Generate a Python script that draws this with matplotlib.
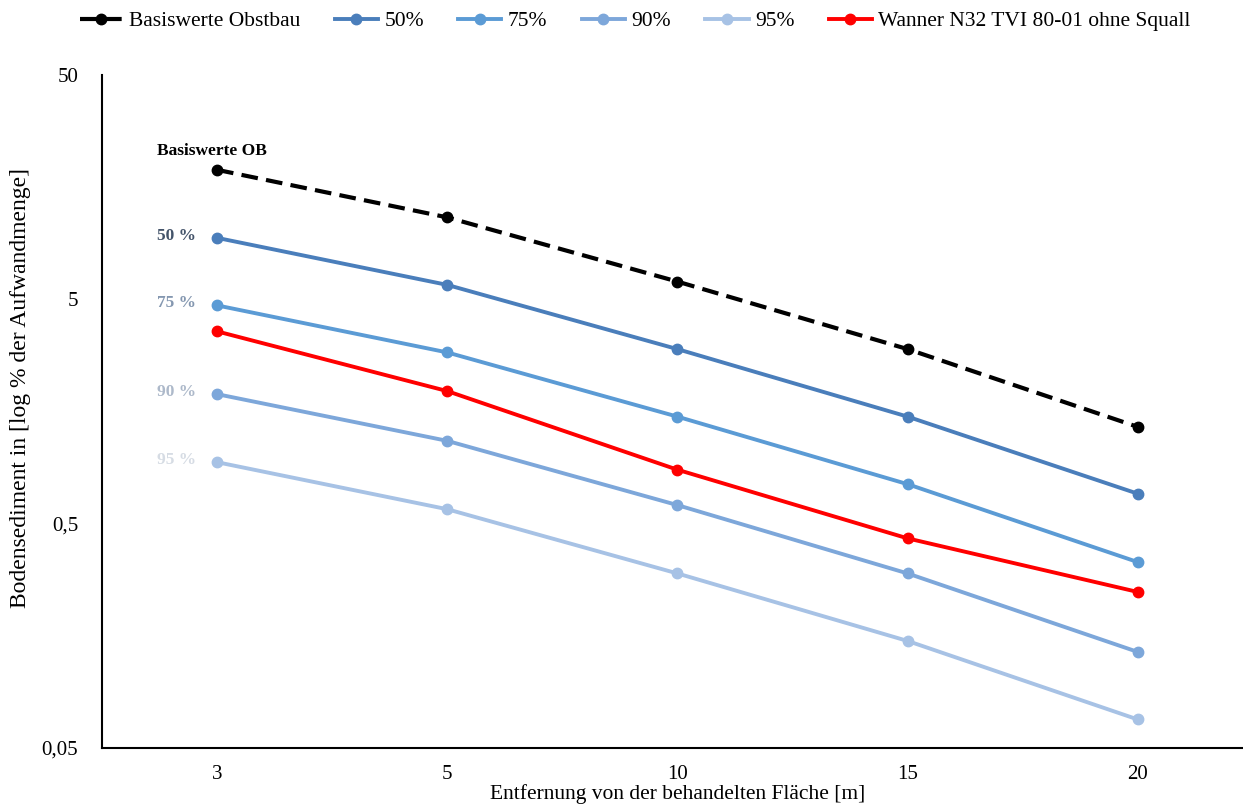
import matplotlib
matplotlib.use("Agg")
import matplotlib.pyplot as plt
from matplotlib.ticker import FixedLocator, NullLocator

plt.rcParams["font.family"] = ["Liberation Serif", "DejaVu Serif"]

distances = ["3", "5", "10", "15", "20"]

basis_ob = [18.9, 11.6, 6.0, 3.0, 1.35]
p50 = [9.4, 5.8, 3.0, 1.5, 0.68]
p75 = [4.7, 2.9, 1.5, 0.75, 0.337]
p90 = [1.89, 1.17, 0.605, 0.30, 0.134]
p95 = [0.94, 0.58, 0.30, 0.150, 0.067]
wanner = [3.6, 1.95, 0.87, 0.43, 0.248]

y_ticks = [0.05, 0.5, 5, 50]
y_ticklabels = ["0,05", "0,5", "5", "50"]

series = [
    ("Basiswerte Obstbau", basis_ob, "black", "--", "Basiswerte OB", "black"),
    ("50%", p50, "#4A7EBB", "-", "50 %", "#44546A"),
    ("75%", p75, "#5B9BD5", "-", "75 %", "#8497B0"),
    ("90%", p90, "#7DA7DA", "-", "90 %", "#ADB9CA"),
    ("95%", p95, "#A7C2E5", "-", "95 %", "#D6DCE4"),
    ("Wanner N32 TVI 80-01 ohne Squall", wanner, "#FF0000", "-", None, None),
]

fig = plt.figure(figsize=(12.43, 8.05), dpi=100)
ax = fig.add_axes([0.082, 0.0708, 0.926, 0.836])

x = list(range(len(distances)))
for name, vals, color, ls, tag, tagcolor in series:
    kw = dict(dashes=(4, 2)) if ls == "--" else {}
    ax.plot(x, vals, color=color, linestyle=ls, linewidth=3 if ls == "--" else 2.8,
            marker="o", markersize=7.5, label=name, clip_on=False, **kw)
    if tag is None:
        continue
    if tag == "Basiswerte OB":
        ax.annotate(tag, (0, vals[0]), xytext=(-60, 19), textcoords="offset pixels",
                    ha="left", va="center", fontsize=12.5, fontweight="bold", color=tagcolor)
    else:
        ax.annotate(tag, (0, vals[0]), xytext=(-21, 2), textcoords="offset pixels",
                    ha="right", va="center", fontsize=12.5, fontweight="bold", color=tagcolor)

ax.set_yscale("log")
ax.set_ylim(0.05, 50)
ax.set_xlim(-0.5, len(distances) - 0.5)
ax.yaxis.set_major_locator(FixedLocator(y_ticks))
ax.yaxis.set_minor_locator(NullLocator())
ax.set_yticklabels(y_ticklabels)
ax.set_xticks(x)
ax.set_xticklabels(distances)
ax.tick_params(axis="both", length=0, labelsize=15)
ax.tick_params(axis="y", pad=17)
ax.tick_params(axis="x", pad=12)

for s in ["top", "right"]:
    ax.spines[s].set_visible(False)
for s in ["left", "bottom"]:
    ax.spines[s].set_linewidth(1.5)

ax.set_xlabel("Entfernung von der behandelten Fläche [m]", fontsize=15.5, labelpad=0)
ax.set_ylabel("Bodensediment in [log % der Aufwandmenge]", fontsize=17, labelpad=8, y=0.535)

fig.legend(loc="upper center", bbox_to_anchor=(0.511, 1.01), ncol=6, frameon=False,
           fontsize=15.5, handlelength=2.0, handletextpad=0.3, columnspacing=1.6)

fig.savefig("out.png", dpi=100)
